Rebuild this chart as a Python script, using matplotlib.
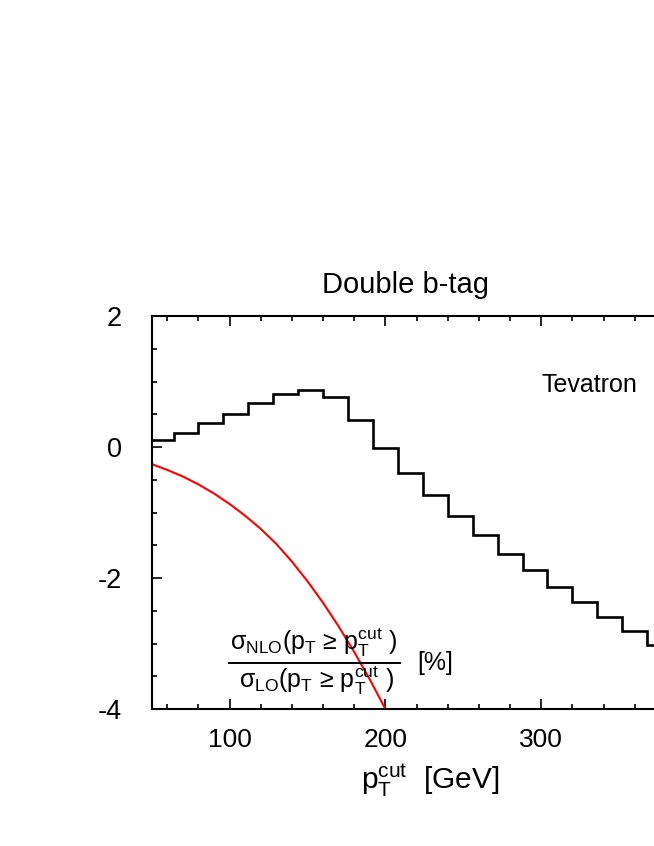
import matplotlib
matplotlib.use('Agg')
import matplotlib.pyplot as plt
from matplotlib.lines import Line2D
from matplotlib.ticker import MultipleLocator

plt.rcParams['font.family'] = ['Liberation Sans', 'DejaVu Sans']
plt.rcParams['mathtext.fontset'] = 'custom'
plt.rcParams['mathtext.rm'] = 'Liberation Sans'
plt.rcParams['mathtext.it'] = 'Liberation Sans'
plt.rcParams['mathtext.sf'] = 'Liberation Sans'
plt.rcParams['mathtext.bf'] = 'Liberation Sans:bold'
plt.rcParams['axes.unicode_minus'] = False

# ---------------- data ----------------
bin_edges = [48, 64, 80, 96, 112, 128, 144, 160, 176, 192, 208, 224, 240,
             256, 272, 288, 304, 320, 336, 352, 368, 384]
nlo_ratio_pct = [0.11, 0.21, 0.36, 0.51, 0.67, 0.81, 0.87, 0.77, 0.41, -0.02,
                 -0.40, -0.74, -1.05, -1.35, -1.63, -1.88, -2.13, -2.37,
                 -2.60, -2.81, -3.02]

curve_pt = [50, 60, 70, 80, 90, 100, 110, 120, 130, 140, 150, 160, 170,
            180, 190, 200]
curve_pct = [-0.26, -0.35, -0.45, -0.57, -0.71, -0.87, -1.05, -1.25, -1.48,
             -1.75, -2.05, -2.38, -2.74, -3.13, -3.55, -4.00]

x_limits = [50, 400]
y_limits = [-4, 2]
x_ticks = [100, 200, 300]
y_ticks = [-4, -2, 0, 2]

title = 'Double b-tag'
collider = 'Tevatron'

# ---------------- layout (pixels) ----------------
W, H = 654, 846
def fx(px):
    return px / W
def fy(py):
    return 1 - py / H

fig = plt.figure(figsize=(W / 100, H / 100), dpi=100)
fig.patch.set_facecolor('white')

x0, x1 = 151.7, 697.0
y_top, y_bot = 316.0, 709.0
ax = fig.add_axes([fx(x0), fy(y_bot), fx(x1) - fx(x0), fy(y_top) - fy(y_bot)])

ax.stairs(nlo_ratio_pct, bin_edges, baseline=None, color='black', lw=1.9)
ax.plot(curve_pt, curve_pct, color='#ff0000', lw=1.5)

ax.set_xlim(*x_limits)
ax.set_ylim(*y_limits)
ax.set_xticks(x_ticks)
ax.set_yticks(y_ticks)
ax.xaxis.set_minor_locator(MultipleLocator(20))
ax.yaxis.set_minor_locator(MultipleLocator(0.5))
ax.tick_params(which='both', direction='in', top=True, right=True,
               width=1.2, color='black')
ax.tick_params(which='major', length=7)
ax.tick_params(which='minor', length=3.5)
ax.tick_params(axis='x', which='major', labelsize=19, pad=13.5)
ax.tick_params(axis='y', which='major', labelsize=19.5, pad=21.5)
for s in ax.spines.values():
    s.set_linewidth(1.5)

# ---------------- texts ----------------
fig.text(fx(405.8), fy(293), title, ha='center', va='baseline', fontsize=21)
fig.text(fx(637), fy(391.5), collider, ha='right', va='baseline', fontsize=18)

num = r'$\sigma_{\rm NLO}$(p$_{\rm T}$ ≥ p$_{\rm T}^{\rm cut}$ )'
den = r'$\sigma_{\rm LO}$(p$_{\rm T}$ ≥ p$_{\rm T}^{\rm cut}$ )'
fig.text(fx(314), fy(643), num, ha='center', va='center', fontsize=18)
fig.text(fx(316), fy(681), den, ha='center', va='center', fontsize=18)
fig.add_artist(Line2D([fx(229), fx(400)], [fy(663), fy(663)],
                      transform=fig.transFigure, color='black', lw=1.4))
fig.text(fx(435), fy(663), '[%]', ha='center', va='center', fontsize=18)

fig.text(fx(430.5), fy(780), r'p$_{\rm T}^{\rm cut}$  [GeV]', ha='center',
         va='center', fontsize=21.5)

fig.savefig('out.png', dpi=100, facecolor='white')
